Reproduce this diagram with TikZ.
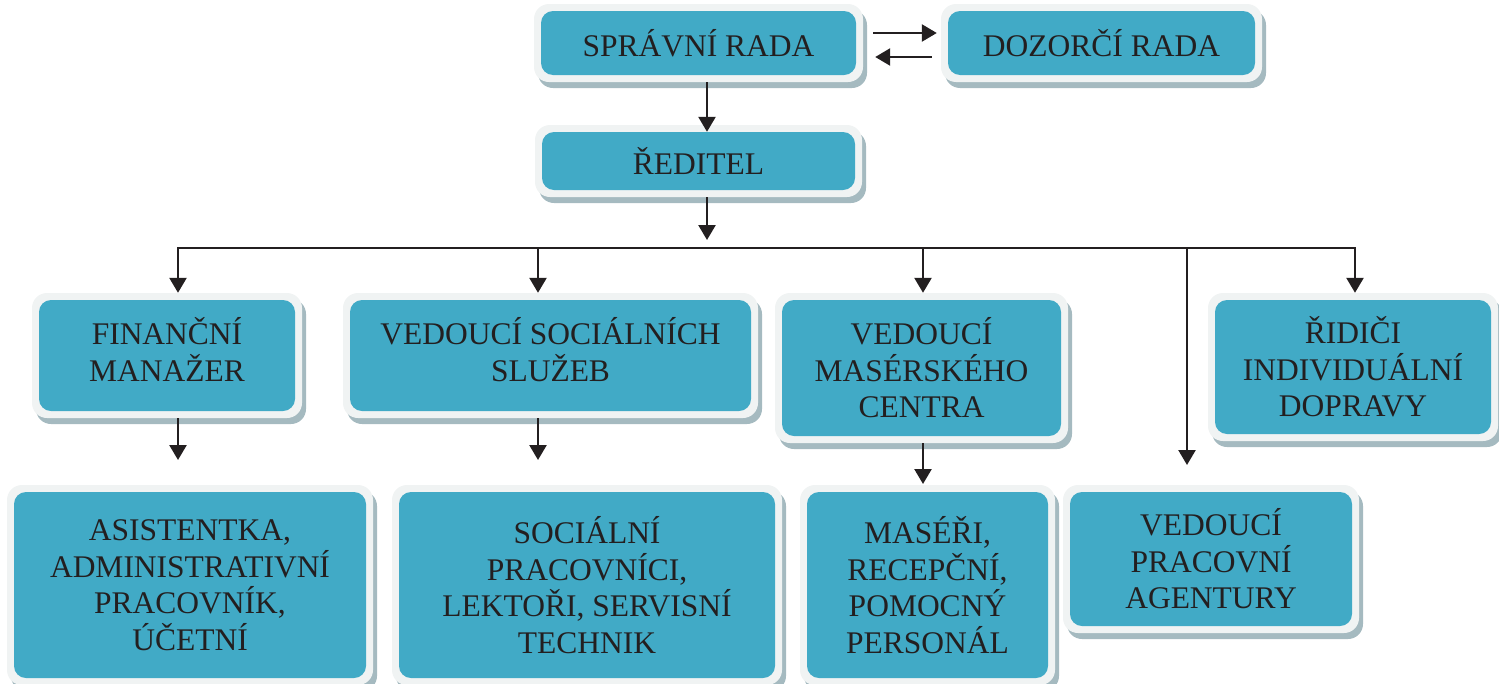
\documentclass[tikz,border=0pt]{standalone}
\usepackage{fontspec}
\setmainfont{Liberation Serif}
\usetikzlibrary{arrows.meta,shadows}
\definecolor{teal}{RGB}{65,170,198}
\definecolor{rim}{RGB}{240,243,243}
\definecolor{shad}{RGB}{165,186,192}
\definecolor{txt}{RGB}{35,31,32}
\newcommand{\boxfont}{\fontsize{31.5}{36.5}\selectfont}
\tikzset{
 orgbox/.style={rectangle, rounded corners=15pt, fill=rim, inner sep=0pt, align=center,
   font=\boxfont, text=txt,
   drop shadow={shadow xshift=4pt, shadow yshift=-6pt, fill=shad, opacity=1},
   path picture={\fill[teal, rounded corners=12pt]
     ([shift={(7pt,7pt)}]path picture bounding box.south west) rectangle
     ([shift={(-7pt,-7pt)}]path picture bounding box.north east);}},
 raised/.style={text depth=12pt},
 conn/.style={line width=2.5pt, draw=txt},
 arr/.style={conn, -{Triangle[length=15pt,width=17pt]}}
}
\begin{document}
\begin{tikzpicture}[x=1pt,y=-1pt]
\useasboundingbox (0,0) rectangle (1499,683);
% top
\node[orgbox, minimum width=329pt, minimum height=78pt] (spr) at (698.5,43) {SPRÁVNÍ RADA};
\node[orgbox, minimum width=321pt, minimum height=78pt] (doz) at (1101.5,43) {DOZORČÍ RADA};
\node[orgbox, minimum width=327pt, minimum height=72pt] (red) at (698.5,161) {ŘEDITEL};
% row 2
\node[orgbox, raised, minimum width=270pt, minimum height=125pt] (fin) at (167,355.5) {FINANČNÍ\\MANAŽER};
\node[orgbox, raised, minimum width=415pt, minimum height=125pt] (soc) at (550.5,355.5) {VEDOUCÍ SOCIÁLNÍCH\\SLUŽEB};
\node[orgbox, minimum width=293pt, minimum height=150pt] (mas) at (921.5,368) {VEDOUCÍ\\MASÉRSKÉHO\\CENTRA};
\node[orgbox, minimum width=290pt, minimum height=148pt] (rid) at (1353,367) {ŘIDIČI\\INDIVIDUÁLNÍ\\DOPRAVY};
% row 3
\node[orgbox, minimum width=366pt, minimum height=200pt] (asst) at (190,585) {ASISTENTKA,\\ADMINISTRATIVNÍ\\PRACOVNÍK,\\ÚČETNÍ};
\node[orgbox, minimum width=390pt, minimum height=200pt] (sprac) at (587,585) {SOCIÁLNÍ\\PRACOVNÍCI,\\LEKTOŘI, SERVISNÍ\\TECHNIK};
\node[orgbox, minimum width=255pt, minimum height=200pt] (mase) at (927.5,585) {MASÉŘI,\\RECEPČNÍ,\\POMOCNÝ\\PERSONÁL};
\node[orgbox, minimum width=296pt, minimum height=148pt] (agency) at (1211,559) {VEDOUCÍ\\PRACOVNÍ\\AGENTURY};
% coordinates
\coordinate (rtip) at (707,240);
\coordinate (b1) at (178,248);
\coordinate (b2) at (538,248);
\coordinate (b3) at (923,248);
\coordinate (b4) at (1187,248);
\coordinate (b5) at (1355,248);
\coordinate (e1) at (178,460);
\coordinate (e2) at (538,460);
\coordinate (e3) at (923,484);
\coordinate (e4) at (1187,465);
% connectors
\draw[arr] ([xshift=10pt,yshift=10pt]spr.east) -- ([xshift=-4pt,yshift=10pt]doz.west);
\draw[arr] ([xshift=-9pt,yshift=-14pt]doz.west) -- ([xshift=12pt,yshift=-14pt]spr.east);
\draw[arr] ([xshift=8.5pt]spr.south) -- ([xshift=8.5pt,yshift=-7pt]red.north);
\draw[arr] ([xshift=8.5pt]red.south) -- (rtip);
\draw[conn, line cap=rect] (b1) -- (b5);
\draw[arr] (b1) -- (b1 |- fin.north);
\draw[arr] (b2) -- (b2 |- soc.north);
\draw[arr] (b3) -- (b3 |- mas.north);
\draw[arr] (b4) -- (e4);
\draw[arr] (b5) -- (b5 |- rid.north);
\draw[arr] (fin.south -| e1) -- (e1);
\draw[arr] (soc.south -| e2) -- (e2);
\draw[arr] (mas.south -| e3) -- (e3);
\end{tikzpicture}
\end{document}
